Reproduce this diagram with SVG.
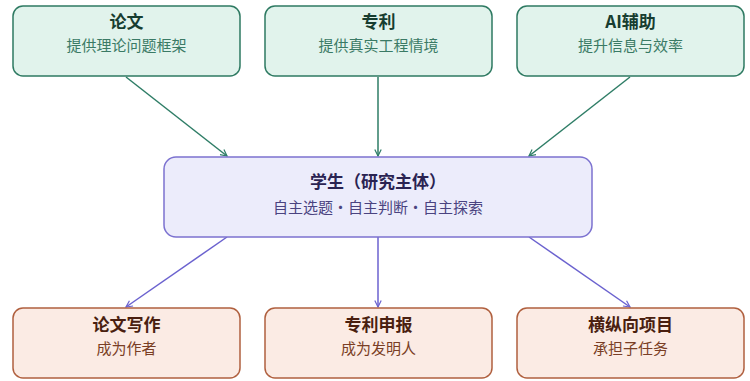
<svg xmlns="http://www.w3.org/2000/svg" width="750" height="381" viewBox="0 0 750 381">
<defs>
<style>
.t{font-family:"Noto Sans CJK SC","Noto Sans",sans-serif;text-anchor:middle;}
.h{font-size:17px;font-weight:700;}
.s{font-size:15px;}
.g rect{fill:#e1f3ec;stroke:#2e7a62;stroke-width:1.5;}
.g .h{fill:#173d30;} .g .s{fill:#3a7a65;}
.p rect{fill:#ececfb;stroke:#7c72d0;stroke-width:1.5;}
.p .h{fill:#2a2352;} .p .s{fill:#4a4380;}
.o rect{fill:#fbebe4;stroke:#b0603f;stroke-width:1.5;}
.o .h{fill:#4a1f10;} .o .s{fill:#7a3e25;}
.cg{stroke:#2e7d66;stroke-width:1.5;fill:none;marker-end:url(#ag);}
.cp{stroke:#6b62cf;stroke-width:1.5;fill:none;marker-end:url(#ap);}
</style>
<marker id="ag" viewBox="0 0 10 10" refX="9" refY="5" markerWidth="8" markerHeight="8" orient="auto-start-reverse" markerUnits="userSpaceOnUse"><path d="M1,1 L9,5 L1,9" fill="none" stroke="#2e7d66" stroke-width="1.5"/></marker>
<marker id="ap" viewBox="0 0 10 10" refX="9" refY="5" markerWidth="8" markerHeight="8" orient="auto-start-reverse" markerUnits="userSpaceOnUse"><path d="M1,1 L9,5 L1,9" fill="none" stroke="#6b62cf" stroke-width="1.5"/></marker>
</defs>
<g id="connectors">
<line class="cg" x1="126" y1="77" x2="227" y2="156"/>
<line class="cg" x1="378" y1="77" x2="378" y2="156"/>
<line class="cg" x1="630" y1="77" x2="529" y2="156"/>
<line class="cp" x1="227" y1="237" x2="126" y2="307"/>
<line class="cp" x1="378" y1="237" x2="378" y2="307"/>
<line class="cp" x1="529" y1="237" x2="630" y2="307"/>
</g>
<g id="n1" class="g"><rect x="13" y="6" width="227" height="70" rx="10"/><text class="t h" x="126.5" y="28">论文</text><text class="t s" x="126.5" y="51">提供理论问题框架</text></g>
<g id="n2" class="g"><rect x="265" y="6" width="227" height="70" rx="10"/><text class="t h" x="378.5" y="28">专利</text><text class="t s" x="378.5" y="51">提供真实工程情境</text></g>
<g id="n3" class="g"><rect x="517" y="6" width="227" height="70" rx="10"/><text class="t h" x="630.5" y="28">AI辅助</text><text class="t s" x="630.5" y="51">提升信息与效率</text></g>
<g id="center" class="p"><rect x="164" y="157" width="428" height="80" rx="12"/><text class="t h" x="378" y="188">学生（研究主体）</text><text class="t s" x="378" y="213">自主选题・自主判断・自主探索</text></g>
<g id="b1" class="o"><rect x="13" y="308" width="227" height="70" rx="10"/><text class="t h" x="126.5" y="331">论文写作</text><text class="t s" x="126.5" y="354">成为作者</text></g>
<g id="b2" class="o"><rect x="265" y="308" width="227" height="70" rx="10"/><text class="t h" x="378.5" y="331">专利申报</text><text class="t s" x="378.5" y="354">成为发明人</text></g>
<g id="b3" class="o"><rect x="517" y="308" width="227" height="70" rx="10"/><text class="t h" x="630.5" y="331">横纵向项目</text><text class="t s" x="630.5" y="354">承担子任务</text></g>
</svg>
